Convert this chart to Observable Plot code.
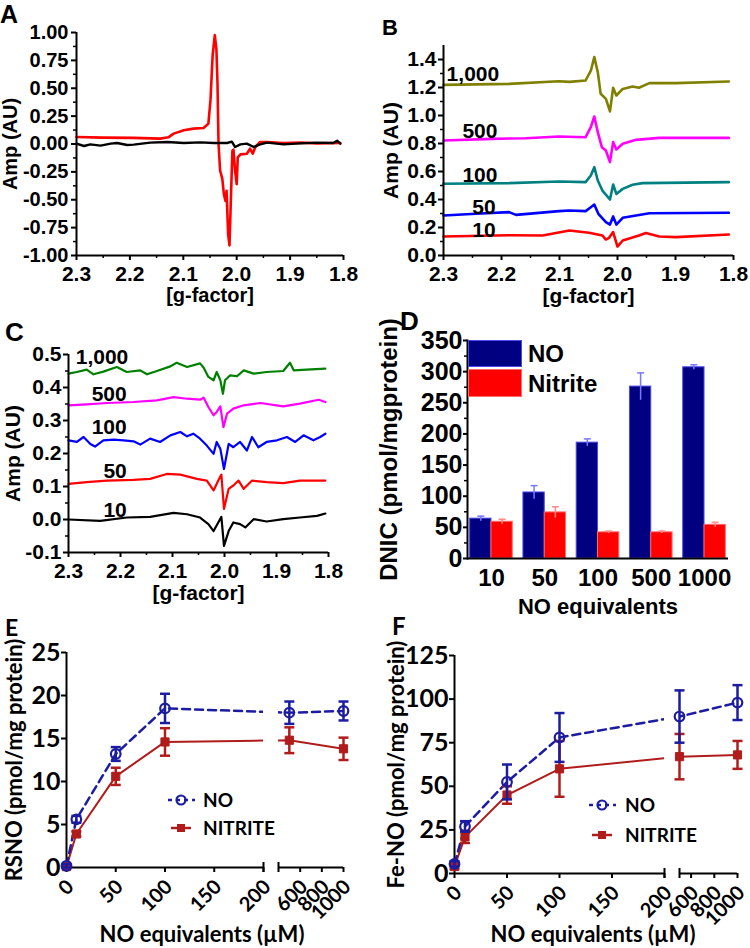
<!DOCTYPE html>
<html>
<head>
<meta charset="utf-8">
<script src="https://cdn.jsdelivr.net/npm/d3@7"></script>
<script src="https://cdn.jsdelivr.net/npm/@observablehq/plot@0.6"></script>
<style>
html,body{margin:0;padding:0;background:#fff;}
#fig{position:relative;width:750px;height:948px;overflow:hidden;background:#fff;}
.t{position:absolute;font-weight:bold;line-height:1.15;white-space:nowrap;color:#000;}
.pl{position:absolute;}
.pl svg{background:none;}
</style>
</head>
<body>
<div id="fig"></div>
<script>
// ---------------- DATA ----------------
// Panel A: EPR spectra (g-factor, amplitude)
const gA_red = [2.300,2.250,2.193,2.143,2.128,2.118,2.099,2.081,2.062,2.053,2.049,2.045,2.041,2.038,2.036,2.034,2.031,2.027,2.024,2.021,2.019,2.016,2.0135,2.011,2.008,2.006,2.003,2.000,1.998,1.993,1.981,1.975,1.970,1.965,1.956,1.943,1.912,1.880,1.850,1.806];
const ampA_red = [0.063,0.057,0.055,0.048,0.06,0.093,0.123,0.138,0.144,0.183,0.40,0.80,0.976,0.85,0.55,0.0,-0.24,-0.31,-0.45,-0.51,-0.42,-0.81,-0.91,-0.51,-0.06,-0.05,-0.24,-0.36,-0.12,-0.093,-0.087,-0.042,-0.087,-0.027,0.018,0.018,0.009,0.012,0.006,0.009];
const gA_black = [2.300,2.286,2.274,2.255,2.236,2.224,2.205,2.193,2.162,2.130,2.099,2.068,2.043,2.018,2.009,2.003,1.993,1.981,1.968,1.956,1.943,1.912,1.881,1.850,1.819,1.812,1.806];
const ampA_black = [0.003,-0.018,-0.003,-0.015,0.003,0.009,-0.009,-0.006,0.012,0.018,0.009,0.015,0.009,0.009,0.021,-0.027,-0.003,0.003,-0.027,-0.003,0.012,-0.003,0.006,0.012,0.009,0.03,0.003];

// Panel B: spectra by dose (NO)
const gB_1000 = [2.300,2.187,2.101,2.083,2.055,2.046,2.040,2.034,2.029,2.020,2.013,2.0075,2.002,1.991,1.974,1.963,1.945,1.899,1.808];
const ampB_1000 = [1.219,1.226,1.245,1.240,1.25,1.32,1.417,1.31,1.155,1.119,1.029,1.198,1.143,1.19,1.207,1.198,1.231,1.231,1.243];
const gB_500 = [2.300,2.216,2.158,2.101,2.055,2.046,2.040,2.034,2.027,2.020,2.013,2.0075,2.002,1.991,1.968,1.928,1.808];
const ampB_500 = [0.821,0.833,0.838,0.85,0.845,0.917,0.993,0.881,0.774,0.75,0.667,0.81,0.757,0.798,0.826,0.840,0.840];
const gB_100 = [2.300,2.187,2.101,2.055,2.046,2.040,2.034,2.026,2.013,2.0075,2.002,1.991,1.974,1.957,1.808];
const ampB_100 = [0.512,0.517,0.529,0.524,0.571,0.631,0.536,0.464,0.40,0.507,0.44,0.476,0.505,0.517,0.524];
const gB_50 = [2.300,2.244,2.187,2.175,2.101,2.083,2.055,2.046,2.040,2.033,2.020,2.013,2.0075,2.002,1.991,1.968,1.945,1.808];
const ampB_50 = [0.286,0.298,0.31,0.29,0.317,0.321,0.317,0.345,0.364,0.298,0.238,0.221,0.279,0.221,0.269,0.286,0.302,0.305];
const gB_10 = [2.300,2.187,2.129,2.083,2.049,2.026,2.020,2.0145,2.0075,2.0,1.991,1.963,1.951,1.928,1.899,1.808];
const ampB_10 = [0.136,0.145,0.143,0.179,0.162,0.143,0.114,0.126,0.167,0.064,0.107,0.143,0.16,0.136,0.131,0.15];
const labelsB = ["1,000","500","100","50","10"];
const labelGB = [2.204,2.207,2.207,2.21,2.21];
const labelAmpB = [1.293,0.888,0.576,0.345,0.183];

// Panel C: spectra by dose (nitrite)
const gC_1000 = [2.300,2.284,2.265,2.252,2.233,2.207,2.188,2.162,2.149,2.130,2.104,2.092,2.072,2.047,2.040,2.031,2.021,2.015,2.008,2.003,1.999,1.989,1.976,1.963,1.944,1.919,1.887,1.874,1.867,1.842,1.806];
const ampC_1000 = [0.442,0.447,0.454,0.44,0.448,0.462,0.447,0.452,0.44,0.45,0.464,0.475,0.462,0.473,0.46,0.432,0.422,0.447,0.422,0.381,0.422,0.437,0.434,0.452,0.442,0.447,0.45,0.475,0.452,0.454,0.457];
const gC_500 = [2.300,2.265,2.226,2.175,2.130,2.098,2.072,2.047,2.040,2.031,2.021,2.015,2.008,2.002,1.995,1.983,1.963,1.931,1.887,1.855,1.819,1.806];
const ampC_500 = [0.346,0.349,0.353,0.356,0.361,0.371,0.366,0.363,0.369,0.341,0.316,0.326,0.343,0.28,0.321,0.336,0.346,0.353,0.343,0.351,0.363,0.356];
const gC_100 = [2.300,2.284,2.271,2.258,2.249,2.233,2.213,2.194,2.175,2.162,2.143,2.124,2.104,2.085,2.072,2.060,2.047,2.034,2.021,2.015,2.008,2.001,1.992,1.983,1.970,1.957,1.947,1.935,1.919,1.899,1.880,1.864,1.848,1.829,1.816,1.806];
const ampC_100 = [0.240,0.235,0.250,0.229,0.221,0.240,0.242,0.24,0.237,0.227,0.245,0.235,0.255,0.265,0.252,0.26,0.245,0.224,0.199,0.235,0.214,0.153,0.229,0.219,0.235,0.209,0.25,0.219,0.235,0.24,0.25,0.235,0.255,0.24,0.25,0.26];
const gC_50 = [2.300,2.265,2.226,2.175,2.143,2.111,2.085,2.053,2.034,2.021,2.012,2.006,2.001,1.992,1.983,1.973,1.963,1.947,1.919,1.887,1.855,1.806];
const ampC_50 = [0.108,0.113,0.118,0.12,0.123,0.138,0.136,0.123,0.118,0.088,0.118,0.136,0.032,0.093,0.103,0.118,0.093,0.118,0.113,0.11,0.118,0.118];
const gC_10 = [2.300,2.239,2.188,2.143,2.098,2.072,2.047,2.031,2.021,2.012,2.006,2.001,1.992,1.983,1.970,1.960,1.944,1.919,1.887,1.855,1.822,1.806];
const ampC_10 = [0.0,-0.004,0.006,0.008,0.02,0.016,0.006,-0.014,-0.035,-0.009,0.008,-0.08,-0.035,-0.009,-0.014,-0.024,0.001,-0.006,0.001,0.006,0.011,0.018];
const labelsC = ["1,000","500","100","50","10"];
const labelGC = [2.185,2.188,2.188,2.188,2.188];
const labelAmpC = [0.493,0.378,0.28,0.145,0.027];

// Panel D: DNIC bars
const dosesD = ["10","50","100","500","1000"];
const noD = [64,106,186,276,307];
const noErrD = [4,11,6,22,4];
const nitD = [59,74,42,42,54];
const nitErrD = [4,9,2,2,4];

// Panels E, F
const dosesEF = [0,10,50,100,500,1000];
const noE = [0.2,5.6,13.2,18.5,18.0,18.2];
const noErrE = [0.2,0.4,0.8,1.7,1.3,1.1];
const nitE = [0.1,3.9,10.6,14.6,14.8,13.8];
const nitErrE = [0.2,0.3,1.0,1.6,1.5,1.3];
const noF = [5.5,27,52.5,78,90,98];
const noErrF = [1.5,3,10,14,15,10];
const nitF = [4,21,45,60,67,68];
const nitErrF = [1.5,3.5,5,16,13,8];

// Tick values
const gTicks = [2.3,2.2,2.1,2.0,1.9,1.8];
const ampTicksA = [-1,-0.75,-0.5,-0.25,0,0.25,0.5,0.75,1];
const ampTicksB = [0,0.2,0.4,0.6,0.8,1.0,1.2,1.4];
const ampTicksC = [-0.1,0,0.1,0.2,0.3,0.4,0.5];
const dnicTicks = [0,50,100,150,200,250,300,350];
const rsnoTicks = [0,5,10,15,20,25];
const fenoTicks = [0,25,50,75,100,125];
const doseTicksLeft = [0,50,100,150,200];
const doseTicksRight = [600,800,1000];

// ---------------- HELPERS ----------------
const fig = document.getElementById("fig");
const ARIAL = "'Liberation Sans', Arial, sans-serif";
const CAL = "Lato, 'Open Sans', sans-serif";
const BLUE = "#1c1ca0";
const DRED = "#b01c1c";
const mids = t => t.slice(1).map((v, i) => (v + t[i]) / 2);
const rows = (g, a) => g.map((v, i) => ({g: v, amp: a[i]}));
const baseStyle = fam => ({fontFamily: fam, fontWeight: "bold", background: "none", color: "black"});
const capSymbol = {draw(ctx, size) { const w = Math.sqrt(size / Math.PI); ctx.moveTo(-w, 0); ctx.lineTo(w, 0); }};

function place(node, left, top) {
  const d = document.createElement("div");
  d.className = "pl"; d.style.left = left + "px"; d.style.top = top + "px";
  d.appendChild(node); fig.appendChild(d);
}
function addText(str, left, top, size, fam, center) {
  const d = document.createElement("div");
  d.className = "t"; d.textContent = str;
  d.style.left = left + "px"; d.style.top = top + "px";
  d.style.fontSize = size + "px"; d.style.fontFamily = fam;
  if (center) d.style.transform = "translate(-50%,-50%)";
  fig.appendChild(d);
}
function axisLabelY(label, offset, size, fam) {
  return Plot.axisY({ticks: [], tickSize: 0, label, labelAnchor: "center", labelOffset: offset, labelArrow: "none", fontSize: size, fontWeight: "bold", fontFamily: fam});
}
function axisLabelX(label, offset, size, fam) {
  return Plot.axisX({ticks: [], tickSize: 0, label, labelAnchor: "center", labelOffset: offset, labelArrow: "none", fontSize: size, fontWeight: "bold", fontFamily: fam});
}
const bold = fam => ({fontWeight: "bold", fontFamily: fam});

// ---------------- PANEL A ----------------
place(Plot.plot({
  width: 370, height: 310, marginLeft: 76, marginRight: 27, marginTop: 32, marginBottom: 55,
  x: {domain: [gTicks[0], gTicks[gTicks.length - 1]]},
  y: {domain: [ampTicksA[0], ampTicksA[ampTicksA.length - 1]]},
  style: baseStyle(ARIAL),
  marks: [
    Plot.line(rows(gA_red, ampA_red), {x: "g", y: "amp", stroke: "#ff0000", strokeWidth: 2.6}),
    Plot.line(rows(gA_black, ampA_black), {x: "g", y: "amp", stroke: "#000", strokeWidth: 2.4}),
    Plot.ruleX([gTicks[0]], {strokeWidth: 2}),
    Plot.ruleY([ampTicksA[0]], {strokeWidth: 2}),
    Plot.axisY(ampTicksA, {tickSize: 5, tickPadding: 3, tickFormat: d => d.toFixed(2), fontSize: 20, strokeWidth: 2, label: null, ...bold(ARIAL)}),
    Plot.axisY(mids(ampTicksA), {tickSize: 3, fill: "none", strokeWidth: 1.5, label: null}),
    Plot.axisX(gTicks, {tickSize: 5, tickPadding: 6, tickFormat: d => d.toFixed(1), fontSize: 21, strokeWidth: 2, label: null, ...bold(ARIAL)}),
    Plot.axisX(mids(gTicks), {tickSize: 3, fill: "none", strokeWidth: 1.5, label: null}),
    axisLabelY("Amp (AU)", 74, 20, ARIAL),
    axisLabelX("[g-factor]", 46, 20, ARIAL)
  ]
}), 0, 0);

// ---------------- PANEL B ----------------
const tracesB = [
  [gB_10, ampB_10, "#ff0000"], [gB_50, ampB_50, "#0000ff"], [gB_100, ampB_100, "#008080"],
  [gB_500, ampB_500, "#ff00ff"], [gB_1000, ampB_1000, "#808000"]
];
place(Plot.plot({
  width: 375, height: 310, marginLeft: 68, marginRight: 17, marginTop: 45, marginBottom: 55,
  x: {domain: [gTicks[0], gTicks[gTicks.length - 1]]},
  y: {domain: [0, 1.5]},
  style: baseStyle(ARIAL),
  marks: [
    ...tracesB.map(([g, a, c]) => Plot.line(rows(g, a), {x: "g", y: "amp", stroke: c, strokeWidth: 2.6})),
    Plot.text(labelsB.map((t, i) => ({t, g: labelGB[i], amp: labelAmpB[i]})), {x: "g", y: "amp", text: "t", textAnchor: "end", fontSize: 21, fill: "#000", ...bold(ARIAL)}),
    Plot.ruleX([gTicks[0]], {strokeWidth: 2}),
    Plot.ruleY([0], {strokeWidth: 2}),
    Plot.axisY(ampTicksB, {tickSize: 5, tickPadding: 2, tickFormat: d => d.toFixed(1), fontSize: 21, strokeWidth: 2, label: null, ...bold(ARIAL)}),
    Plot.axisY(mids(ampTicksB), {tickSize: 3, fill: "none", strokeWidth: 1.5, label: null}),
    Plot.axisX(gTicks, {tickSize: 5, tickPadding: 6, tickFormat: d => d.toFixed(1), fontSize: 21, strokeWidth: 2, label: null, ...bold(ARIAL)}),
    Plot.axisX(mids(gTicks), {tickSize: 3, fill: "none", strokeWidth: 1.5, label: null}),
    axisLabelY("Amp (AU)", 60, 21, ARIAL),
    axisLabelX("[g-factor]", 47, 21, ARIAL)
  ]
}), 375, 0);

// ---------------- PANEL C ----------------
const tracesC = [
  [gC_10, ampC_10, "#000000"], [gC_50, ampC_50, "#ff0000"], [gC_100, ampC_100, "#0000ff"],
  [gC_500, ampC_500, "#ff00ff"], [gC_1000, ampC_1000, "#008000"]
];
place(Plot.plot({
  width: 370, height: 310, marginLeft: 68, marginRight: 42, marginTop: 54, marginBottom: 58,
  x: {domain: [gTicks[0], gTicks[gTicks.length - 1]]},
  y: {domain: [ampTicksC[0], ampTicksC[ampTicksC.length - 1]]},
  style: baseStyle(ARIAL),
  marks: [
    ...tracesC.map(([g, a, c]) => Plot.line(rows(g, a), {x: "g", y: "amp", stroke: c, strokeWidth: 2.2})),
    Plot.text(labelsC.map((t, i) => ({t, g: labelGC[i], amp: labelAmpC[i]})), {x: "g", y: "amp", text: "t", textAnchor: "end", fontSize: 21, fill: "#000", ...bold(ARIAL)}),
    Plot.ruleX([gTicks[0]], {strokeWidth: 2}),
    Plot.ruleY([ampTicksC[0]], {strokeWidth: 2}),
    Plot.axisY(ampTicksC, {tickSize: 5, tickPadding: 2, tickFormat: d => d.toFixed(1), fontSize: 21, strokeWidth: 2, label: null, ...bold(ARIAL)}),
    Plot.axisY(mids(ampTicksC), {tickSize: 3, fill: "none", strokeWidth: 1.5, label: null}),
    Plot.axisX(gTicks, {tickSize: 5, tickPadding: 6, tickFormat: d => d.toFixed(1), fontSize: 21, strokeWidth: 2, label: null, ...bold(ARIAL)}),
    Plot.axisX(mids(gTicks), {tickSize: 3, fill: "none", strokeWidth: 1.5, label: null}),
    axisLabelY("Amp (AU)", 63, 21, ARIAL),
    axisLabelX("[g-factor]", 47, 21, ARIAL)
  ]
}), 0, 300);

// ---------------- PANEL D ----------------
const rowsD = dosesD.map((d, i) => ({dose: d, no: noD[i], noErr: noErrD[i], nit: nitD[i], nitErr: nitErrD[i]}));
const dW = 375, dML = 92, dMR = 22, padIn = 0.2, padOut = 0.05;
const bwD = (dW - dML - dMR) / (dosesD.length - padIn + 2 * padOut) * (1 - padIn);
place(Plot.plot({
  width: dW, height: 318, marginLeft: dML, marginRight: dMR, marginTop: 40, marginBottom: 60,
  x: {type: "band", domain: dosesD, paddingInner: padIn, paddingOuter: padOut, round: false},
  y: {domain: [0, 350]},
  style: baseStyle(ARIAL),
  marks: [
    Plot.barY(rowsD, {x: "dose", y: "no", fill: "#000080", stroke: "#4a4ae8", strokeWidth: 1, insetRight: bwD / 2}),
    Plot.barY(rowsD, {x: "dose", y: "nit", fill: "#ff0000", stroke: "#ff6a6a", strokeWidth: 1, insetLeft: bwD / 2}),
    Plot.ruleX(rowsD, {x: "dose", y1: d => d.no - d.noErr, y2: d => d.no + d.noErr, dx: -bwD / 4, stroke: "#7878ff", strokeWidth: 1.5}),
    Plot.dot(rowsD, {x: "dose", y: d => d.no + d.noErr, dx: -bwD / 4, symbol: capSymbol, r: 3.5, fill: "none", stroke: "#7878ff", strokeWidth: 1.5}),
    Plot.ruleX(rowsD, {x: "dose", y1: d => d.nit - d.nitErr, y2: d => d.nit + d.nitErr, dx: bwD / 4, stroke: "#ff8a8a", strokeWidth: 1.5}),
    Plot.dot(rowsD, {x: "dose", y: d => d.nit + d.nitErr, dx: bwD / 4, symbol: capSymbol, r: 3.5, fill: "none", stroke: "#ff8a8a", strokeWidth: 1.5}),
    Plot.ruleY([0], {strokeWidth: 2}),
    Plot.frame({anchor: "left", strokeWidth: 2}),
    Plot.axisY(dnicTicks, {tickSize: 4, tickPadding: 1, fontSize: 25, strokeWidth: 2, label: null, ...bold(ARIAL)}),
    Plot.axisY(mids(dnicTicks), {tickSize: 3, fill: "none", strokeWidth: 1.5, label: null}),
    Plot.axisX({tickSize: 0, tickPadding: 10, fontSize: 24, label: null, ...bold(ARIAL)}),
    axisLabelY("DNIC (pmol/mgprotein)", 88, 24, ARIAL),
    axisLabelX("NO equivalents", 55, 22, ARIAL)
  ]
}), 375, 300);

// Legend D
(function () {
  const box = (l, t, w, h, bg, bd) => {
    const d = document.createElement("div");
    Object.assign(d.style, {position: "absolute", left: l + "px", top: t + "px", width: w + "px", height: h + "px", background: bg, border: "1px solid " + bd, boxSizing: "border-box"});
    fig.appendChild(d);
  };
  box(468, 340, 54, 27, "#000080", "#4a4ae8");
  box(468, 369, 54, 28, "#ff0000", "#ff6a6a");
  addText("NO", 528, 340, 24, ARIAL);
  addText("Nitrite", 528, 370, 24, ARIAL);
})();

// ---------------- PANELS E & F ----------------
function brokenPanel(cfg) {
  const data = dosesEF.map((d, i) => ({dose: d, no: cfg.no[i], noErr: cfg.noErr[i], nit: cfg.nit[i], nitErr: cfg.nitErr[i]}));
  const seriesMarks = (filter) => [
    Plot.line(data, {x: "dose", y: "nit", stroke: DRED, strokeWidth: 2, clip: true}),
    Plot.line(data, {x: "dose", y: "no", stroke: BLUE, strokeWidth: 2.5, strokeDasharray: "8,5", clip: true}),
    Plot.ruleX(data, {filter, x: "dose", y1: d => d.nit - d.nitErr, y2: d => d.nit + d.nitErr, stroke: DRED, strokeWidth: 2.5}),
    Plot.dot(data, {filter, x: "dose", y: d => d.nit + d.nitErr, symbol: capSymbol, r: 5, fill: "none", stroke: DRED, strokeWidth: 2.5}),
    Plot.dot(data, {filter, x: "dose", y: d => d.nit - d.nitErr, symbol: capSymbol, r: 5, fill: "none", stroke: DRED, strokeWidth: 2.5}),
    Plot.dot(data, {filter, x: "dose", y: "nit", symbol: "square", r: 4.6, fill: DRED, stroke: DRED, strokeWidth: 1}),
    Plot.ruleX(data, {filter, x: "dose", y1: d => d.no - d.noErr, y2: d => d.no + d.noErr, stroke: BLUE, strokeWidth: 2.5}),
    Plot.dot(data, {filter, x: "dose", y: d => d.no + d.noErr, symbol: capSymbol, r: 5, fill: "none", stroke: BLUE, strokeWidth: 2.5}),
    Plot.dot(data, {filter, x: "dose", y: d => d.no - d.noErr, symbol: capSymbol, r: 5, fill: "none", stroke: BLUE, strokeWidth: 2.5}),
    Plot.dot(data, {filter, x: "dose", y: "no", r: 4.8, fill: "none", stroke: BLUE, strokeWidth: 2.2})
  ];
  const xDomain = [0, 200, cfg.breakHi, 1000];
  const common = {height: 348, marginTop: cfg.top, marginBottom: cfg.bottom, style: baseStyle(CAL)};
  const xTickMarks = ticks => [
    Plot.axisX(ticks, {tickSize: 5, fill: "none", strokeWidth: 2, label: null}),
    Plot.text(ticks, {x: d => d, text: d => String(d), frameAnchor: "bottom", rotate: -45, textAnchor: "end", lineAnchor: "middle", dx: 4, dy: 16, fontSize: 20, fill: "#000", ...bold(CAL)})
  ];
  // left segment
  place(Plot.plot({
    ...common,
    width: cfg.leftW, marginLeft: cfg.px[0] - cfg.leftX, marginRight: cfg.leftX + cfg.leftW - cfg.px[1],
    x: {type: "linear", domain: xDomain, range: cfg.px.map(v => v - cfg.leftX)},
    y: {domain: [cfg.yTicks[0], cfg.yTicks[cfg.yTicks.length - 1]]},
    marks: [
      Plot.ruleX([0], {strokeWidth: 2}),
      Plot.ruleY([0], {strokeWidth: 2}),
      Plot.ruleX([200], {y1: 0, y2: 0, insetTop: -5, insetBottom: -5, strokeWidth: 2}),
      Plot.axisY(cfg.yTicks, {tickSize: 5, tickPadding: 1, fontSize: 25, strokeWidth: 2, label: null, ...bold(CAL)}),
      axisLabelY(cfg.yLabel, cfg.yLabelOffset, 22, CAL),
      ...xTickMarks(doseTicksLeft),
      ...seriesMarks(d => d.dose <= 200)
    ]
  }), cfg.leftX, 600);
  // right segment
  place(Plot.plot({
    ...common,
    width: cfg.rightW, marginLeft: cfg.px[2] - cfg.rightX, marginRight: cfg.rightX + cfg.rightW - cfg.px[3],
    x: {type: "linear", domain: xDomain, range: cfg.px.map(v => v - cfg.rightX)},
    y: {domain: [cfg.yTicks[0], cfg.yTicks[cfg.yTicks.length - 1]], axis: null},
    marks: [
      Plot.ruleY([0], {strokeWidth: 2}),
      Plot.ruleX([cfg.breakHi], {y1: 0, y2: 0, insetTop: -5, insetBottom: -5, strokeWidth: 2}),
      ...xTickMarks(doseTicksRight),
      ...seriesMarks(d => d.dose >= cfg.breakHi)
    ]
  }), cfg.rightX, 600);
}

brokenPanel({no: noE, noErr: noErrE, nit: nitE, nitErr: nitErrE, breakHi: 400,
  px: [66, 263, 278, 343], leftX: 0, leftW: 290, rightX: 240, rightW: 135,
  top: 52, bottom: 81, yTicks: rsnoTicks, yLabel: "RSNO (pmol/mg protein)", yLabelOffset: 60});
brokenPanel({no: noF, noErr: noErrF, nit: nitF, nitErr: nitErrF, breakHi: 500,
  px: [454, 664, 679, 737], leftX: 375, leftW: 320, rightX: 640, rightW: 110,
  top: 55, bottom: 75, yTicks: fenoTicks, yLabel: "Fe-NO (pmol/mg protein)", yLabelOffset: 66});

// Legends E, F
function legendEF(cx, yNO, yNIT, textLeft) {
  const ns = "http://www.w3.org/2000/svg";
  const svg = document.createElementNS(ns, "svg");
  svg.setAttribute("width", 40); svg.setAttribute("height", yNIT - yNO + 20);
  Object.assign(svg.style, {position: "absolute", left: (cx - 20) + "px", top: (yNO - 10) + "px"});
  const el = (tag, attrs) => { const e = document.createElementNS(ns, tag); for (const k in attrs) e.setAttribute(k, attrs[k]); svg.appendChild(e); };
  el("line", {x1: 7, x2: 34, y1: 10, y2: 10, stroke: BLUE, "stroke-width": 2.5, "stroke-dasharray": "4,4"});
  el("circle", {cx: 20, cy: 10, r: 4.5, fill: "none", stroke: BLUE, "stroke-width": 2.2});
  const y2 = yNIT - yNO + 10;
  el("line", {x1: 10, x2: 30, y1: y2, y2: y2, stroke: DRED, "stroke-width": 2.5});
  el("rect", {x: 16, y: y2 - 4, width: 8, height: 8, fill: DRED});
  fig.appendChild(svg);
  addText("NO", textLeft, yNO - 11, 19, CAL);
  addText("NITRITE", textLeft, yNIT - 11, 19, CAL);
}
legendEF(181, 800, 828, 203);
legendEF(602, 805, 835, 625);

// Axis titles E/F and panel letters
addText("NO equivalents (\u00b5M)", 202, 934, 22, CAL, true);
addText("NO equivalents (\u00b5M)", 593, 934, 22, CAL, true);
addText("A", 0, 0, 25, ARIAL);
addText("B", 382, 15, 22, ARIAL);
addText("C", 5, 318, 26, ARIAL);
addText("D", 400, 307, 26, ARIAL);
addText("E", 5, 614, 23, CAL);
addText("F", 392, 612, 24, CAL);
</script>
</body>
</html>
